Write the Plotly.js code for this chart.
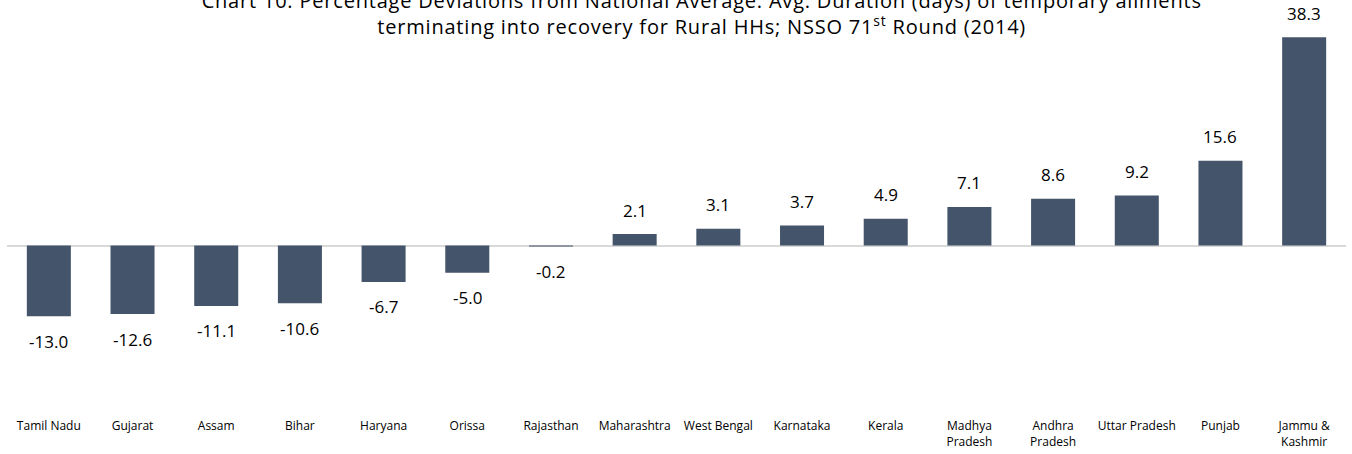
<!DOCTYPE html>
<html>
<head>
<meta charset="utf-8">
<script src="https://cdn.plot.ly/plotly-3.0.1.min.js"></script>
<style>html,body{margin:0;padding:0;background:#fff;}#chart{width:1352px;height:454px;}
.gtitle{letter-spacing:0.8px;}</style>
</head>
<body>
<div id="chart"></div>
<script>
const states = ["Tamil Nadu","Gujarat","Assam","Bihar","Haryana","Orissa","Rajasthan","Maharashtra","West Bengal","Karnataka","Kerala","Madhya<br>Pradesh","Andhra<br>Pradesh","Uttar Pradesh","Punjab","Jammu &<br>Kashmir"];
const deviation = [-13.0,-12.6,-11.1,-10.6,-6.7,-5.0,-0.2,2.1,3.1,3.7,4.9,7.1,8.6,9.2,15.6,38.3];
const valueLabels = deviation.map(v => v.toFixed(1));

const bar = {
  type: 'bar',
  x: states,
  y: deviation,
  marker: {color: '#44546a'},
  hoverinfo: 'x+y'
};

const annotations = deviation.map((v, i) => ({
  x: states[i], y: v, xref: 'x', yref: 'y',
  text: valueLabels[i], showarrow: false,
  yanchor: 'middle', yshift: v >= 0 ? 24 : -25,
  font: {family: 'Open Sans, sans-serif', size: 17, color: '#000'}
}));

const layout = {
  width: 1352, height: 454,
  margin: {l: 7, r: 6, t: 20, b: 42},
  paper_bgcolor: '#fff', plot_bgcolor: '#fff',
  bargap: 0.474,
  showlegend: false,
  title: {
    text: 'Chart 10: Percentage Deviations from National Average: Avg. Duration (days) of temporary ailments<br>terminating into recovery for Rural HHs; NSSO 71<sup>st</sup> Round (2014)',
    x: 0.519, xanchor: 'center', xref: 'container',
    y: 0.982, yanchor: 'middle', yref: 'container',
    font: {family: 'Open Sans, sans-serif', size: 20, color: '#000'}
  },
  xaxis: {
    type: 'category',
    showgrid: false, showline: false, ticks: '',
    tickfont: {family: 'Open Sans, sans-serif', size: 12, color: '#000'},
    tickangle: 0,
    ticklabelstandoff: 5
  },
  yaxis: {
    range: [-30.6, 41.45],
    showgrid: false, showticklabels: false, ticks: '',
    zeroline: true, zerolinecolor: '#d9d9d9', zerolinewidth: 2,
    showline: false
  },
  annotations: annotations
};

Plotly.newPlot('chart', [bar], layout, {displayModeBar: false, staticPlot: true});
</script>
</body>
</html>
